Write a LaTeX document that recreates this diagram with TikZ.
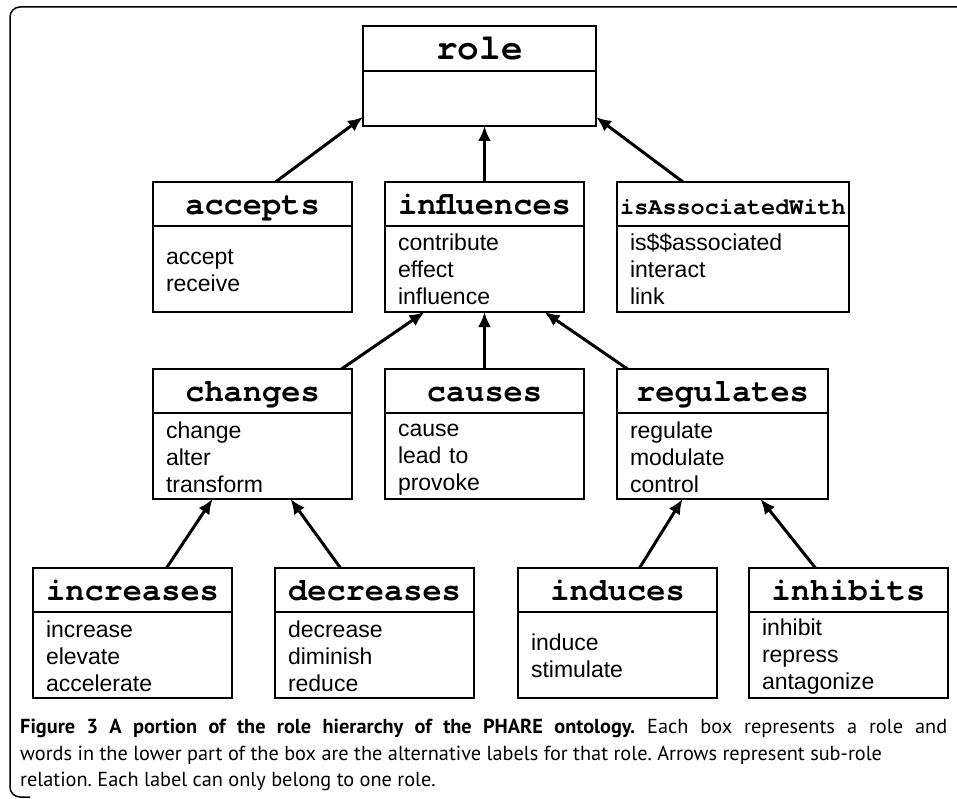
\documentclass[tikz,border=0pt]{standalone}
\usepackage{fontspec}
\setmainfont{Liberation Sans}
\newfontfamily\hdrfont{texgyrecursor}[Extension=.otf,UprightFont=*-regular,BoldFont=*-bold]
\newfontfamily\capfont{PT Sans}
\usetikzlibrary{positioning,calc,arrows.meta}

\begin{document}
\begin{tikzpicture}[x=1pt,y=-1pt,
  hdr/.style={draw,line width=1.3pt,outer sep=0pt,inner sep=0pt,minimum width=199pt,minimum height=44pt,anchor=north west,text height=23pt,text depth=1.5pt,font=\hdrfont\bfseries\fontsize{32}{32}\selectfont},
  lbl/.style={draw,line width=1.3pt,outer sep=0pt,inner xsep=13pt,inner ysep=0pt,text width=173pt,minimum height=86pt,align=left,font=\fontsize{23}{27}\selectfont,
    execute at begin node=\rule{0pt}{20.5pt},execute at end node=\rule[-2.5pt]{0pt}{2.5pt}},
  subrole/.style={line width=3pt,->,>={Latex[length=15pt,width=13pt]}}]
\useasboundingbox (0,0) rectangle (957,799);
\draw [line width=1.5pt,rounded corners=10pt] (957,7) -- (10,7) -- (10,797) -- (30,797);
\node[hdr,minimum width=233pt,minimum height=45pt,font=\hdrfont\bfseries\fontsize{36}{36}\selectfont] (role) at (363,26) {role};
\node[lbl,text width=207pt,minimum height=55pt,below=0pt of role] (role-l) {};
\node[hdr] (acc) at (153,182) {accepts};
\node[lbl,below=0pt of acc] (acc-l) {accept\\receive};
\node[hdr] (inf) at (385,182) {influences};
\node[lbl,below=0pt of inf] (inf-l) {contribute\\effect\\influence};
\node[hdr,minimum width=232pt,font=\hdrfont\bfseries\fontsize{23.5}{23.5}\selectfont] (isa) at (617,182) {isAssociatedWith};
\node[lbl,text width=206pt,below=0pt of isa] (isa-l) {is\$\$associated\\interact\\link};
\node[hdr] (chg) at (153,369) {changes};
\node[lbl,below=0pt of chg] (chg-l) {change\\alter\\transform};
\node[hdr] (cau) at (385,369) {causes};
\node[lbl,below=0pt of cau] (cau-l) {cause\\lead to\\provoke};
\node[hdr,minimum width=211pt] (reg) at (617,369) {regulates};
\node[lbl,text width=185pt,below=0pt of reg] (reg-l) {regulate\\modulate\\control};
\node[hdr] (inc) at (33,568) {increases};
\node[lbl,below=0pt of inc] (inc-l) {increase\\elevate\\accelerate};
\node[hdr] (dec) at (275,568) {decreases};
\node[lbl,below=0pt of dec] (dec-l) {decrease\\diminish\\reduce};
\node[hdr] (ind) at (518,568) {induces};
\node[lbl,below=0pt of ind] (ind-l) {induce\\stimulate};
\node[hdr] (inh) at (749,568) {inhibits};
\node[lbl,below=0pt of inh] (inh-l) {inhibit\\repress\\antagonize};
\draw [subrole] ($(acc.north)+(23,0)$) -- ($(role-l.south west)+(0,-9)$);
\draw [subrole] (inf.north) -- (inf.north |- role-l.south);
\draw [subrole] ($(isa.north)+(-50,0)$) -- ($(role-l.south east)+(0,-9)$);
\draw [subrole] ($(chg.north)+(89,0)$) -- ($(inf-l.south)+(-60,0)$);
\draw [subrole] (cau.north) -- (inf-l.south);
\draw [subrole] ($(reg.north)+(-95,0)$) -- ($(inf-l.south)+(60,0)$);
\draw [subrole] ($(inc.north)+(34,0)$) -- ($(chg-l.south)+(-40,0)$);
\draw [subrole] ($(dec.north)+(-34,0)$) -- ($(chg-l.south)+(38,0)$);
\draw [subrole] ($(ind.north)+(22,0)$) -- ($(reg-l.south)+(-40,0)$);
\draw [subrole] ($(inh.north)+(-33,0)$) -- ($(reg-l.south)+(38,0)$);
\node[anchor=north west,align=left,inner sep=0pt,font=\capfont\fontsize{20.3}{26.5}\selectfont\frenchspacing] (cap) at (20,719) {\makebox[927pt][s]{\textbf{Figure 3 A portion of the role hierarchy of the PHARE ontology.} Each box represents a role and}\\words in the lower part of the box are the alternative labels for that role. Arrows represent sub-role\\relation. Each label can only belong to one role.};
\end{tikzpicture}
\end{document}
